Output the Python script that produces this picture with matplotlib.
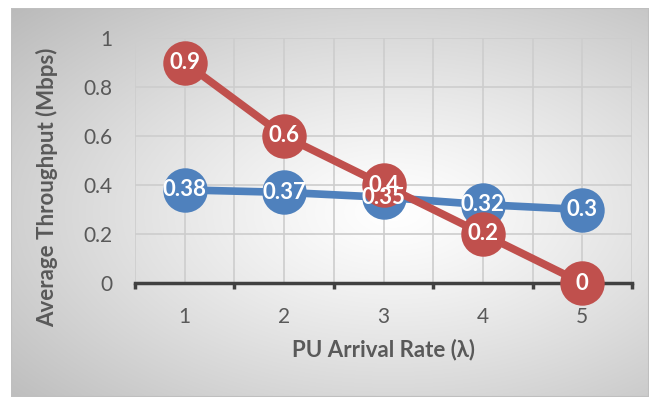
import numpy as np
import matplotlib.pyplot as plt
from matplotlib.patches import Rectangle

# chart data
arrival_rates = [1, 2, 3, 4, 5]
throughput_blue = [0.38, 0.37, 0.35, 0.32, 0.3]
throughput_red = [0.9, 0.6, 0.4, 0.2, 0.0]
y_ticks = [0, 0.2, 0.4, 0.6, 0.8, 1]
y_tick_labels = ['0', '0.2', '0.4', '0.6', '0.8', '1']

BLUE = '#4F81BD'
RED = '#C0504D'
TEXT = '#595959'
FONT = ['Lato', 'DejaVu Sans']

plt.rcParams['font.family'] = FONT

W, H = 649, 399
fig = plt.figure(figsize=(W / 100, H / 100), dpi=100)
fig.patch.set_facecolor('white')

# gradient chart-area background (radial, white centre -> grey edges)
bg = fig.add_axes([11 / W, 2 / H, 1 - 11 / W, (397 - 8) / H])
bg.set_axis_off()
gx, gy = np.meshgrid(np.linspace(-1, 1, 400), np.linspace(-1, 1, 300))
r = np.sqrt(((gx - 0.2) / 1.2) ** 2 + ((gy - 0.05) / 1.1) ** 2)
r = np.clip(r / r.max(), 0, 1)
shade = 1.0 - 0.27 * r ** 1.2
bg.imshow(np.dstack([shade] * 3), aspect='auto', extent=[0, 1, 0, 1],
          interpolation='bilinear')
bg.add_patch(Rectangle((0, 0), 1, 1, transform=bg.transAxes, fill=False,
                       edgecolor='#BFBFBF', lw=1.5))
bg.set_xlim(0, 1)
bg.set_ylim(0, 1)

ax = fig.add_axes([135 / W, 1 - 283 / H, (632 - 135) / W, (283 - 38) / H])
ax.patch.set_alpha(0)

ax.set_xlim(0.5, 5.5)
ax.set_ylim(0, 1)

# gridlines
for gxv in np.arange(0.5, 5.51, 0.5):
    ax.axvline(gxv, color='#CDCDCD', lw=1.2, zorder=1)
for gyv in y_ticks:
    ax.axhline(gyv, color='#CDCDCD', lw=1.2, zorder=1)

ax.plot(arrival_rates, throughput_blue, color=BLUE, lw=5.5, marker='o',
        markersize=32, markeredgewidth=0, zorder=4, clip_on=False,
        solid_capstyle='round')
ax.plot(arrival_rates, throughput_red, color=RED, lw=5.5, marker='o',
        markersize=32, markeredgewidth=0, zorder=5, clip_on=False,
        solid_capstyle='round')

for xv, yv in zip(arrival_rates, throughput_blue):
    ax.text(xv, yv, f'{yv:g}', color='white', fontsize=16, fontweight='bold',
            ha='center', va='center', zorder=7, clip_on=False)
for xv, yv in zip(arrival_rates, throughput_red):
    ax.text(xv, yv, f'{yv:g}', color='white', fontsize=16, fontweight='bold',
            ha='center', va='center', zorder=7, clip_on=False)

for side in ['top', 'right', 'left']:
    ax.spines[side].set_visible(False)
ax.spines['bottom'].set_color('#404040')
ax.spines['bottom'].set_linewidth(2.5)
ax.spines['bottom'].set_zorder(3)

ax.set_xticks(arrival_rates)
ax.set_xticklabels([str(v) for v in arrival_rates])
ax.set_xticks(np.arange(0.5, 5.51, 1), minor=True)
ax.tick_params(axis='x', which='major', length=0, pad=17, labelsize=15,
               labelcolor=TEXT)
ax.tick_params(axis='x', which='minor', length=4, width=2.5, color='#404040',
               direction='out')
ax.set_yticks(y_ticks)
ax.set_yticklabels(y_tick_labels)
ax.tick_params(axis='y', length=0, pad=16, labelsize=15, labelcolor=TEXT)

fig.text(47 / W, 1 - 187 / H, 'Average Throughput (Mbps)', rotation=90,
         ha='center', va='center', fontsize=16, fontweight='bold', color=TEXT,
         family=FONT)
fig.text(383 / W, 1 - 350 / H, 'PU Arrival Rate (λ)', ha='center',
         va='center', fontsize=16, fontweight='bold', color=TEXT, family=FONT)

fig.savefig('out.png', dpi=100)
